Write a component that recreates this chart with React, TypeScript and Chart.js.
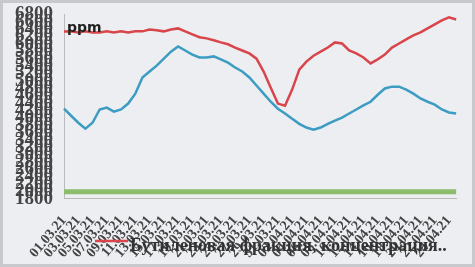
import React, { useEffect, useRef } from "react";
import { Chart, registerables } from "chart.js";

Chart.register(...registerables);

const dates: string[] = [
  "01.03.21","02.03.21","03.03.21","04.03.21","05.03.21","06.03.21","07.03.21","08.03.21",
  "09.03.21","10.03.21","11.03.21","12.03.21","13.03.21","14.03.21","15.03.21","16.03.21",
  "17.03.21","18.03.21","19.03.21","20.03.21","21.03.21","22.03.21","23.03.21","24.03.21",
  "25.03.21","26.03.21","27.03.21","28.03.21","29.03.21","30.03.21","31.03.21","01.04.21",
  "02.04.21","03.04.21","04.04.21","05.04.21","06.04.21","07.04.21","08.04.21","09.04.21",
  "10.04.21","11.04.21","12.04.21","13.04.21","14.04.21","15.04.21","16.04.21","17.04.21",
  "18.04.21","19.04.21","20.04.21","21.04.21","22.04.21","23.04.21","24.04.21","25.04.21",
];

const redSeries: number[] = [
  6338, 6340, 6310, 6340, 6310, 6310, 6340, 6310, 6340, 6310, 6340, 6340, 6390, 6370,
  6340, 6390, 6420, 6340, 6260, 6180, 6150, 6100, 6040, 5990, 5900, 5820, 5740, 5600,
  5250, 4810, 4380, 4320, 4760, 5300, 5520, 5680, 5790, 5900, 6040, 6010, 5820, 5740,
  5630, 5470, 5580, 5710, 5900, 6010, 6120, 6230, 6310, 6420, 6530, 6640, 6720, 6660,
];

const blueSeries: number[] = [
  4243, 4050, 3860, 3700, 3860, 4220, 4270, 4160, 4220, 4380, 4650, 5090, 5250, 5410,
  5600, 5790, 5930, 5820, 5710, 5630, 5630, 5660, 5580, 5490, 5360, 5250, 5090, 4870,
  4650, 4430, 4240, 4110, 3970, 3830, 3730, 3670, 3730, 3830, 3920, 4000, 4110, 4220,
  4330, 4430, 4620, 4790, 4840, 4840, 4760, 4650, 4520, 4430, 4350, 4220, 4140, 4110,
];

const greenSeries: number[] = [
  1990, 1990, 1990, 1990, 1990, 1990, 1990, 1990, 1990, 1990, 1990, 1990, 1990, 1990,
  1990, 1990, 1990, 1990, 1990, 1990, 1990, 1990, 1990, 1990, 1990, 1990, 1990, 1990,
  1990, 1990, 1990, 1990, 1990, 1990, 1990, 1990, 1990, 1990, 1990, 1990, 1990, 1990,
  1990, 1990, 1990, 1990, 1990, 1990, 1990, 1990, 1990, 1990, 1990, 1990, 1990, 1990,
];

const seriesNames: string[] = ["Бутилен", "Изобутилен", "Фон"];
const legendText = "Бутиленовая фракция, концентрация..";
const unitText = "ppm";
const yMin = 1800;
const yMax = 6800;
const yStep = 200;

export default function App() {
  const ref = useRef<HTMLCanvasElement | null>(null);

  useEffect(() => {
    document.body.style.margin = "0";
    const canvas = ref.current;
    if (!canvas) return;

    const decor = {
      id: "decor",
      beforeDraw(chart: any) {
        const { ctx, width, height } = chart;
        ctx.save();
        ctx.fillStyle = "#eceef2";
        ctx.fillRect(0, 0, width, height);
        ctx.strokeStyle = "#c8c9cc";
        ctx.lineWidth = 3;
        ctx.strokeRect(1.5, 1.5, width - 3, height - 3);
        ctx.restore();
      },
      afterDraw(chart: any) {
        const { ctx, chartArea } = chart;
        ctx.save();
        ctx.fillStyle = "#222";
        ctx.font = "bold 14px 'DejaVu Sans'";
        ctx.textBaseline = "middle";
        ctx.fillText(unitText, chartArea.left + 3, chartArea.top + 14);
        // legend
        ctx.strokeStyle = "#d8454a";
        ctx.lineWidth = 2.5;
        ctx.beginPath();
        ctx.moveTo(95, 241);
        ctx.lineTo(128, 241);
        ctx.stroke();
        ctx.fillStyle = "#333";
        ctx.font = "bold 18px 'Liberation Serif'";
        ctx.textBaseline = "alphabetic";
        ctx.fillText(legendText, 130, 251);
        ctx.restore();
      },
    };

    const chart = new Chart(canvas, {
      type: "line",
      data: {
        labels: dates,
        datasets: [
          {
            label: seriesNames[0],
            data: redSeries,
            borderColor: "#d8454a",
            borderWidth: 2.5,
            pointRadius: 0,
            tension: 0,
          },
          {
            label: seriesNames[1],
            data: blueSeries,
            borderColor: "#3c9cc2",
            borderWidth: 2.5,
            pointRadius: 0,
            tension: 0,
          },
          {
            label: seriesNames[2],
            data: greenSeries,
            borderColor: "#8dbd6c",
            borderWidth: 5,
            pointRadius: 0,
            tension: 0,
          },
        ],
      },
      plugins: [decor],
      options: {
        responsive: false,
        animation: false,
        layout: { padding: { left: 12, right: 12, top: 10, bottom: 0 } },
        plugins: {
          legend: { display: false },
          tooltip: { enabled: false },
        },
        scales: {
          x: {
            grid: { display: false },
            border: { color: "#bbb" },
            ticks: {
              autoSkip: false,
              maxRotation: 50,
              minRotation: 50,
              padding: 6,
              color: "#444",
              font: { family: "'Liberation Serif'", size: 14, weight: "bold" },
              callback: (_v: any, i: number) => (i % 2 === 0 ? dates[i] : ""),
            },
          },
          y: {
            min: yMin,
            max: yMax,
            grid: { display: false },
            border: { color: "#bbb" },
            ticks: {
              autoSkip: false,
              stepSize: yStep,
              color: "#444",
              font: { family: "'Liberation Serif'", size: 19, weight: "bold" },
              callback: (v: any) => String(v),
            },
          },
        },
      },
    });
    return () => chart.destroy();
  }, []);

  return (
    <div style={{ width: 475, height: 267 }}>
      <canvas ref={ref} width={475} height={267} />
    </div>
  );
}
